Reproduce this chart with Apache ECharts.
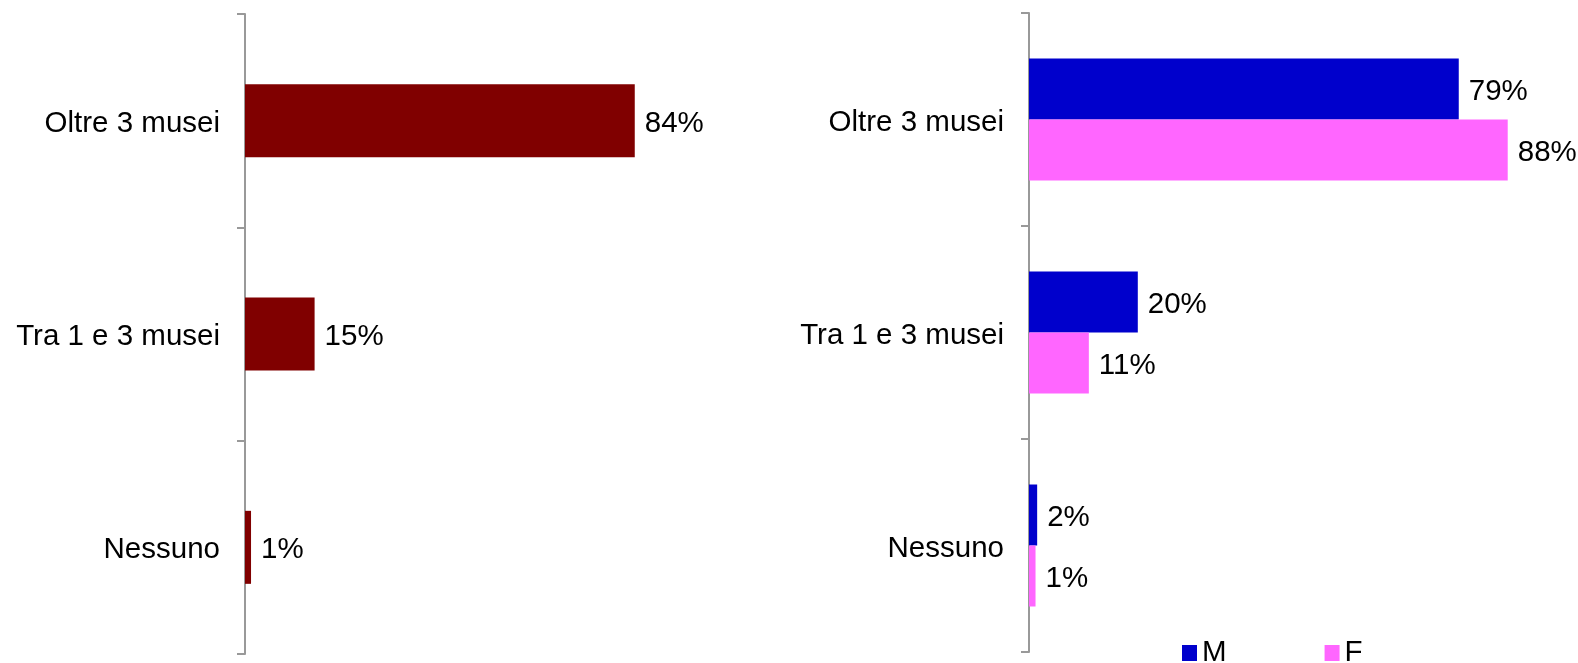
<!DOCTYPE html>
<html><head><meta charset="utf-8">
<script src="https://cdn.jsdelivr.net/npm/echarts@6/dist/echarts.min.js"></script>
<style>html,body{margin:0;padding:0;background:#fff}#c{width:1578px;height:663px}</style>
</head><body><div id="c"></div>
<script>
const categories = ['Oltre 3 musei', 'Tra 1 e 3 musei', 'Nessuno'];
const totalValues = [84, 15, 1.3];
const maleValues = [79, 20, 1.5];
const femaleValues = [88, 11, 1.2];
const seriesNames = ['M', 'F'];

const FONT = 'Liberation Sans, Arial, sans-serif';
const chart = echarts.init(document.getElementById('c'));
const fmt = p => Math.round(p.value) + '%';
const labelCfg = {show: true, position: 'right', distance: 10, offset: [0, 3], formatter: fmt, color: '#000', fontSize: 29.5, fontFamily: FONT};
const axisLineCfg = {show: true, lineStyle: {color: '#999', width: 2}};
const yAxisBase = {
  type: 'category', data: categories, inverse: true,
  axisLine: axisLineCfg,
  axisTick: {show: true, length: 8, lineStyle: {color: '#999', width: 2}},
  axisLabel: {
    color: '#000', fontSize: 29.5, fontFamily: FONT, margin: 25,
    formatter: v => '{a|' + v + '}',
    rich: {a: {color: '#000', fontSize: 29.5, fontFamily: FONT, padding: [6, 0, 0, 0]}}
  }
};
chart.setOption({
  animation: false,
  textStyle: {fontFamily: FONT},
  legend: {
    data: seriesNames, left: 1177, top: 633, itemWidth: 15, itemHeight: 16, itemGap: 98,
    textStyle: {fontSize: 29.5, color: '#000', fontFamily: FONT}, icon: 'rect'
  },
  grid: [
    {left: 245, top: 14, height: 640, width: 464},
    {left: 1029, top: 13, height: 639, width: 544}
  ],
  xAxis: [
    {gridIndex: 0, type: 'value', min: 0, max: 100, show: false},
    {gridIndex: 1, type: 'value', min: 0, max: 100, show: false}
  ],
  yAxis: [
    Object.assign({gridIndex: 0}, yAxisBase),
    Object.assign({gridIndex: 1}, yAxisBase)
  ],
  series: [
    {type: 'bar', name: 'Totale', xAxisIndex: 0, yAxisIndex: 0, data: totalValues, barWidth: 73,
     itemStyle: {color: '#800000'}, label: labelCfg},
    {type: 'bar', name: seriesNames[0], xAxisIndex: 1, yAxisIndex: 1, data: maleValues, barWidth: 61, barGap: '0%',
     itemStyle: {color: '#0000CC'}, label: labelCfg},
    {type: 'bar', name: seriesNames[1], xAxisIndex: 1, yAxisIndex: 1, data: femaleValues, barWidth: 61, barGap: '0%',
     itemStyle: {color: '#FF66FF'}, label: labelCfg}
  ]
});
</script></body></html>
